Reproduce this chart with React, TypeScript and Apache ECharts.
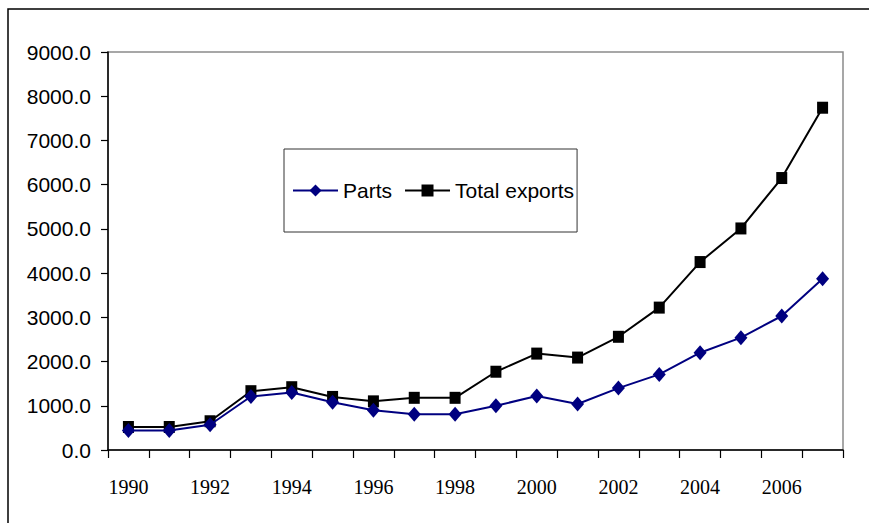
import React, { useEffect, useRef } from "react";
import * as echarts from "echarts";

const years = ["1990","1991","1992","1993","1994","1995","1996","1997","1998","1999","2000","2001","2002","2003","2004","2005","2006","2007"];
const parts = [440, 440, 570, 1210, 1300, 1080, 900, 810, 810, 1000, 1220, 1040, 1400, 1710, 2200, 2540, 3030, 3870];
const totalExports = [520, 520, 650, 1330, 1420, 1200, 1100, 1180, 1180, 1770, 2180, 2090, 2560, 3220, 4250, 5010, 6150, 7740];

export default function App() {
  const ref = useRef<HTMLDivElement>(null);
  useEffect(() => {
    if (!ref.current) return;
    const chart = echarts.init(ref.current, null, { renderer: "svg" });
    chart.setOption({
      animation: false,
      backgroundColor: "#fff",
      graphic: [
        {
          type: "rect",
          shape: { x: 8, y: 9, width: 900, height: 600 },
          style: { fill: "none", stroke: "#000", lineWidth: 1.5 },
          silent: true,
        },
      ],
      grid: {
        left: 108,
        top: 52,
        right: 26,
        bottom: 73,
        show: true,
        borderColor: "#8a8a8a",
        borderWidth: 1.5,
        backgroundColor: "transparent",
      },
      legend: {
        left: 284,
        top: 149,
        orient: "horizontal",
        padding: [31, 3, 31, 8],
        itemGap: 12,
        itemWidth: 45,
        itemHeight: 15,
        borderColor: "#333",
        borderWidth: 1,
        backgroundColor: "#fff",
        textStyle: {
          fontFamily: "'Liberation Sans', Arial, sans-serif",
          fontSize: 21,
          color: "#000",
        },
        data: ["Parts", "Total exports"],
      },
      xAxis: {
        type: "category",
        data: years,
        boundaryGap: true,
        axisLine: { lineStyle: { color: "#000", width: 1.5 } },
        axisTick: { show: true, interval: 0, length: 8, inside: false, lineStyle: { color: "#000", width: 1.2 } },
        axisLabel: {
          interval: 1,
          margin: 27,
          fontFamily: "'Liberation Serif', 'Times New Roman', serif",
          fontSize: 20,
          color: "#000",
        },
        splitLine: { show: false },
      },
      yAxis: {
        type: "value",
        min: 0,
        max: 9000,
        interval: 1000,
        axisLine: { show: true, lineStyle: { color: "#000", width: 1.5 } },
        axisTick: { show: true, length: 7, lineStyle: { color: "#000", width: 1.2 } },
        axisLabel: {
          margin: 17,
          formatter: (v: number) => v.toFixed(1),
          fontFamily: "'Liberation Sans', Arial, sans-serif",
          fontSize: 21,
          color: "#000",
        },
        splitLine: { show: false },
      },
      series: [
        {
          name: "Parts",
          type: "line",
          data: parts,
          symbol: "diamond",
          symbolSize: [13, 15],
          lineStyle: { color: "#000080", width: 2 },
          itemStyle: { color: "#000080" },
          z: 3,
        },
        {
          name: "Total exports",
          type: "line",
          data: totalExports,
          symbol: "rect",
          symbolSize: [11, 12],
          lineStyle: { color: "#000", width: 2 },
          itemStyle: { color: "#000" },
          z: 2,
        },
      ],
    });
    return () => chart.dispose();
  }, []);
  return (
    <div
      ref={ref}
      style={{ position: "absolute", left: 0, top: 0, width: 869, height: 523 }}
    />
  );
}
